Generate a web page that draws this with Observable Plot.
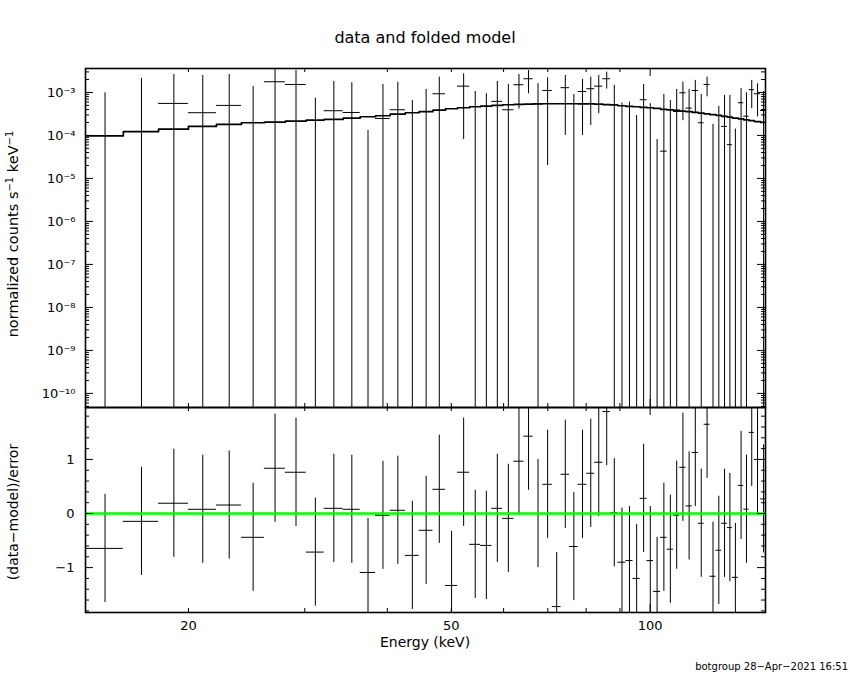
<!DOCTYPE html>
<html><head><meta charset="utf-8">
<script src="https://cdn.jsdelivr.net/npm/d3@7"></script>
<script src="https://cdn.jsdelivr.net/npm/@observablehq/plot@0.6"></script>
<style>
body{margin:0;background:#fff;}
#wrap{position:relative;width:850px;height:680px;background:#fff;font-family:"DejaVu Sans",sans-serif;color:#000;overflow:hidden;}
.abs{position:absolute;white-space:nowrap;}
#topPlot,#botPlot{position:absolute;left:0;}
#topPlot{top:0;} #botPlot{top:405px;}
sup{font-size:10px;vertical-align:5px;line-height:0;}
</style></head><body>
<div id="wrap">
  <div id="topPlot"></div>
  <div id="botPlot"></div>
  <div class="abs" style="left:0;width:850px;top:28px;text-align:center;font-size:16px;">data and folded model</div>
  <div class="abs" style="left:13px;top:234px;transform:translate(-50%,-50%) rotate(-90deg);font-size:14.5px;">normalized counts s<sup>−1</sup> keV<sup>−1</sup></div>
  <div class="abs" style="left:13px;top:512px;transform:translate(-50%,-50%) rotate(-90deg);font-size:14px;">(data−model)/error</div>
  <div class="abs" style="left:0;width:850px;top:634px;text-align:center;font-size:14px;">Energy (keV)</div>
  <div class="abs" style="right:2px;top:661px;font-size:10px;">botgroup 28−Apr−2021 16:51</div>
</div>
<script>
// ---- data ----
const binEdges = [13.97, 15.94, 18.02, 20.0, 22.05, 24.06, 26.06, 28.04, 30.16, 32.1, 34.3, 36.4, 38.4, 40.4, 42.6, 44.7, 46.9, 49.0, 51.1, 53.3, 55.4, 57.6, 59.8, 62.2, 64.4, 66.5, 68.8, 71.1, 73.3, 75.5, 77.8, 80.2, 82.4, 84.8, 87.1, 89.4, 91.9, 94.2, 96.6, 98.9, 101.2, 103.7, 106.1, 108.5, 110.9, 113.3, 115.8, 118.3, 120.7, 123.2, 125.8, 128.3, 130.9, 133.2, 136.0, 138.6, 141.2, 143.8, 147.0, 150.0];

const rate = [-1.5e-3, -2.2e-4, 5.55e-4, 3.37e-4, 4.99e-4, -7.3e-4, 1.77e-3, 1.53e-3, -1.01e-3, 3.75e-4,
  3.42e-4, -1.44e-3, 2.48e-4, 3.95e-4, -6.6e-4, -1.0e-5, 9.3e-4, -1.31e-3, 1.40e-3, -3.1e-4,
  -1.7e-4, 6.2e-4, 3.95e-4, 1.51e-3, 2.08e-3, 5.45e-4, 1.11e-3, -1.26e-3, 1.29e-3, -7e-6,
  1.05e-3, 1.22e-3, 1.40e-3, 2.08e-3, 5.2e-4, -3.3e-4, -3.65e-4, -5.7e-4, 6.76e-4, -2.6e-4,
  -7.1e-4, 4.3e-5, -1.2e-4, 3.6e-4, 9.8e-4, 4.32e-4, 1.11e-3, 1.97e-4, 1.53e-3, -6.1e-4,
  -8.8e-5, 1.62e-4, 6.1e-5, -5.0e-4, 5.75e-4, 2.8e-4, 1.16e-3, 9.3e-4, 3.8e-4];

const rateErr = [2.48e-3, 2.34e-3, 2.07e-3, 2.14e-3, 2.12e-3, 2.11e-3, 1.87e-3, 1.72e-3, 1.74e-3, 1.43e-3,
  1.34e-3, 1.57e-3, 1.28e-3, 1.32e-3, 1.31e-3, 1.18e-3, 1.34e-3, 1.30e-3, 1.32e-3, 1.36e-3,
  1.10e-3, 1.18e-3, 1.14e-3, 1.10e-3, 1.15e-3, 1.05e-3, 1.09e-3, 1.05e-3, 1.19e-3, 9.05e-4,
  9.5e-4, 1.05e-3, 1.08e-3, 8.8e-4, 9.4e-4, 9.0e-4, 9.6e-4, 8.6e-4, 8.5e-4, 8.1e-4,
  7.9e-4, 8.55e-4, 7.7e-4, 8.1e-4, 7.6e-4, 7.4e-4, 7.9e-4, 7.0e-4, 7.4e-4, 7.9e-4,
  5.6e-4, 6.9e-4, 7.9e-4, 6.4e-4, 6.45e-4, 7.0e-4, 7.4e-4, 6.6e-4, 6.7e-4];

const model = [9.8e-5, 1.22e-4, 1.40e-4, 1.62e-4, 1.80e-4, 1.97e-4, 2.04e-4, 2.15e-4, 2.27e-4, 2.36e-4,
  2.53e-4, 2.72e-4, 2.87e-4, 3.13e-4, 3.37e-4, 3.56e-4, 3.88e-4, 4.17e-4, 4.40e-4, 4.64e-4,
  4.81e-4, 4.99e-4, 5.17e-4, 5.25e-4, 5.34e-4, 5.42e-4, 5.45e-4, 5.45e-4, 5.45e-4, 5.45e-4,
  5.42e-4, 5.40e-4, 5.35e-4, 5.22e-4, 5.10e-4, 4.90e-4, 4.75e-4, 4.64e-4, 4.48e-4, 4.40e-4,
  4.25e-4, 4.05e-4, 3.92e-4, 3.81e-4, 3.68e-4, 3.56e-4, 3.42e-4, 3.30e-4, 3.18e-4, 3.03e-4,
  2.93e-4, 2.78e-4, 2.67e-4, 2.53e-4, 2.42e-4, 2.31e-4, 2.20e-4, 2.10e-4, 2.00e-4];

const resid = [-0.645, -0.145, 0.19, 0.078, 0.157, -0.44, 0.837, 0.763, -0.713, 0.096,
  0.078, -1.09, -0.033, 0.06, -0.774, -0.31, 0.448, -1.33, 0.763, -0.57,
  -0.59, 0.096, -0.09, 0.967, 1.43, 0.0, 0.54, -1.72, 0.726, -0.61,
  0.54, 0.744, 0.948, 1.885, 0.015, -0.9, -0.87, -1.2, 0.28, -0.87,
  -1.44, -0.44, -0.66, -0.03, 0.855, 0.14, 1.13, -0.18, 1.65, -1.16,
  -0.68, -0.18, -0.26, -1.18, 0.52, 0.08, 1.5, 1.0, 0.27];

// ---- ticks and labels ----
const xTickMinor = [20, 30, 40, 50, 60, 70, 80, 90];
const xTickMajor = [100];
const xTickLabels = [20, 50, 100];
const yDecades = [1e-10, 1e-9, 1e-8, 1e-7, 1e-6, 1e-5, 1e-4, 1e-3];
const residMajor = [-1, 0, 1];
const residMinor = [-1.8, -1.6, -1.4, -1.2, -0.8, -0.6, -0.4, -0.2, 0.2, 0.4, 0.6, 0.8, 1.2, 1.4, 1.6, 1.8];

const xDomain = [13.97, 149.5];
const yDomain = [4.7e-11, 3.6e-3];
const rDomain = [-1.83, 1.96];

// ---- derived tables ----
const bins = rate.map((r, i) => ({
  lo: binEdges[i], hi: binEdges[i + 1], xc: (binEdges[i] + binEdges[i + 1]) / 2,
  rate: r, err: rateErr[i], model: model[i], resid: resid[i]
}));
const modelSteps = bins.map(d => ({x: d.lo, y: d.model}));
modelSteps.push({x: bins[bins.length - 1].hi, y: bins[bins.length - 1].model});

const yMinor = [];
for (let n = -11; n <= -3; n++) for (let k = 2; k <= 9; k++) {
  const v = k * Math.pow(10, n);
  if (v > yDomain[0] && v < yDomain[1]) yMinor.push(v);
}

const supMap = {"-": "⁻", "0": "⁰", "1": "¹", "2": "²", "3": "³", "4": "⁴", "5": "⁵", "6": "⁶", "7": "⁷", "8": "⁸", "9": "⁹"};
const pow10 = v => "10" + String(Math.round(Math.log10(v))).split("").map(c => supMap[c]).join("");

const W = 680, H1 = 339, H2 = 205;
const styleOpt = {background: "transparent", fontFamily: "DejaVu Sans", fontSize: "13px", overflow: "visible", color: "black"};

function xTicks(H) {
  return [
    Plot.tickX(xTickMinor, {insetBottom: H - 4, stroke: "black"}),
    Plot.tickX(xTickMinor, {insetTop: H - 4, stroke: "black"}),
    Plot.tickX(xTickMajor, {insetBottom: H - 8, stroke: "black"}),
    Plot.tickX(xTickMajor, {insetTop: H - 8, stroke: "black"})
  ];
}
function yTicks(minor, major) {
  return [
    Plot.tickY(minor, {insetRight: W - 4, stroke: "black"}),
    Plot.tickY(minor, {insetLeft: W - 4, stroke: "black"}),
    Plot.tickY(major, {insetRight: W - 8, stroke: "black"}),
    Plot.tickY(major, {insetLeft: W - 8, stroke: "black"})
  ];
}

const topChart = Plot.plot({
  width: 850, height: 410, marginLeft: 85, marginRight: 85, marginTop: 68, marginBottom: 3,
  x: {type: "log", domain: xDomain, axis: null, label: null},
  y: {type: "log", domain: yDomain, axis: null, label: null},
  style: styleOpt,
  marks: [
    Plot.ruleX(bins.filter(d => d.rate + d.err > 0), {
      x: "xc", y1: d => Math.max(d.rate - d.err, 1e-14), y2: d => d.rate + d.err,
      stroke: "black", strokeWidth: 1, clip: true
    }),
    Plot.ruleY(bins.filter(d => d.rate > 0), {y: "rate", x1: "lo", x2: "hi", stroke: "black", strokeWidth: 1, clip: true}),
    Plot.line(modelSteps, {x: "x", y: "y", curve: "step-after", stroke: "black", strokeWidth: 1.7, clip: true}),
    ...yTicks(yMinor, yDecades),
    ...xTicks(H1),
    Plot.axisY(yDecades, {tickSize: 0, tickPadding: 10, tickFormat: pow10, label: null, fontSize: 13}),
    Plot.frame({stroke: "black", strokeWidth: 1.6})
  ]
});
document.getElementById("topPlot").appendChild(topChart);

const botChart = Plot.plot({
  width: 850, height: 275, marginLeft: 85, marginRight: 85, marginTop: 2, marginBottom: 68,
  x: {type: "log", domain: xDomain, axis: null, label: null},
  y: {domain: rDomain, axis: null, label: null},
  style: styleOpt,
  marks: [
    Plot.ruleX(bins, {x: "xc", y1: d => d.resid - 1, y2: d => d.resid + 1, stroke: "black", strokeWidth: 1, clip: true}),
    Plot.ruleY(bins, {y: "resid", x1: "lo", x2: "hi", stroke: "black", strokeWidth: 1, clip: true}),
    Plot.ruleY([0], {stroke: "#00ff00", strokeWidth: 2.5}),
    ...yTicks(residMinor, residMajor),
    ...xTicks(H2),
    Plot.axisY(residMajor, {tickSize: 0, tickPadding: 11, label: null, fontSize: 13,
      tickFormat: d => d === 0 ? "0" : (d < 0 ? "−" + Math.abs(d) : String(d))}),
    Plot.axisX(xTickLabels, {tickSize: 0, tickPadding: 8, label: null, fontSize: 13, tickFormat: d => String(d)}),
    Plot.frame({stroke: "black", strokeWidth: 1.6})
  ]
});
document.getElementById("botPlot").appendChild(botChart);
</script>
</body></html>
